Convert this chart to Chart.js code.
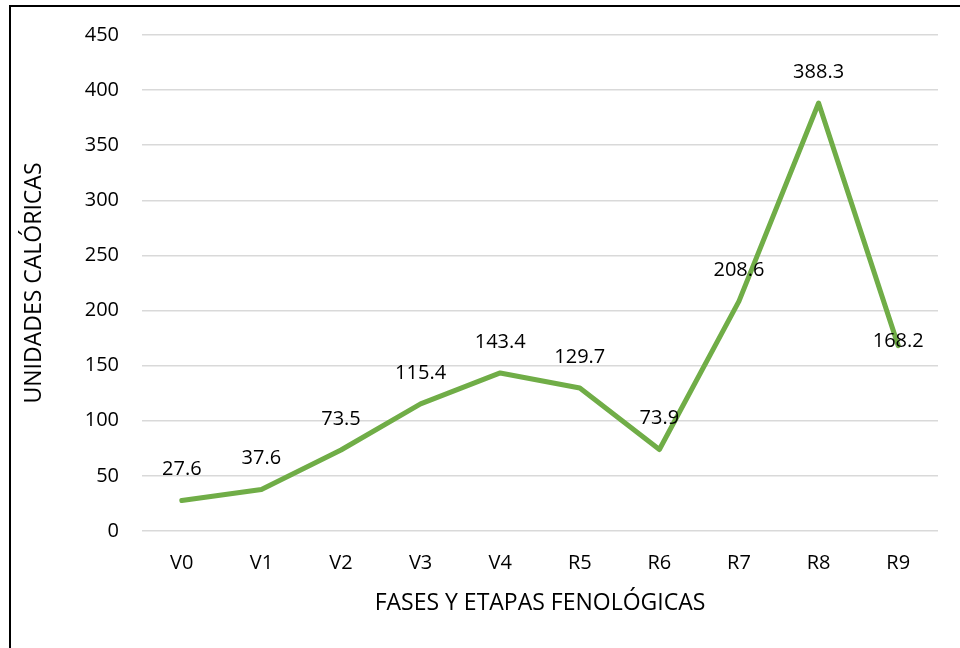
<!DOCTYPE html>
<html>
<head>
<meta charset="utf-8">
<script src="https://cdn.jsdelivr.net/npm/chart.js@4.4.0/dist/chart.umd.min.js"></script>
<style>
    html, body { margin: 0; padding: 0; background: #fff; }
    .marco { position: relative; width: 960px; height: 648px; overflow: hidden; }
    .borde { position: absolute; left: 9px; top: 5px; width: 1000px; height: 700px;
             border-left: 2px solid #000; border-top: 2px solid #000; box-sizing: border-box; }
    canvas { position: absolute; left: 0; top: 0; }
</style>
</head>
<body>
<div class="marco">
    <div class="borde"></div>
    <canvas id="graficoCalorias" width="960" height="648"></canvas>
</div>
<script>
// datos del gráfico
const etapas = ['V0', 'V1', 'V2', 'V3', 'V4', 'R5', 'R6', 'R7', 'R8', 'R9'];
const unidadesCaloricas = [27.6, 37.6, 73.5, 115.4, 143.4, 129.7, 73.9, 208.6, 388.3, 168.2];
const etiquetas = ['27.6', '37.6', '73.5', '115.4', '143.4', '129.7', '73.9', '208.6', '388.3', '168.2'];
const ticksY = [0, 50, 100, 150, 200, 250, 300, 350, 400, 450];

const fuente = "'Open Sans', 'Noto Sans', sans-serif";

// etiquetas de datos encima de cada punto (sin plugin externo)
const etiquetasPlugin = {
    id: 'etiquetasDatos',
    afterDatasetsDraw(chart) {
        const { ctx } = chart;
        const meta = chart.getDatasetMeta(0);
        ctx.save();
        ctx.font = '20px ' + fuente;
        ctx.fillStyle = '#000';
        ctx.textAlign = 'center';
        ctx.textBaseline = 'middle';
        meta.data.forEach((punto, i) => {
            // el último rótulo queda sobre el punto, como en el original
            const desplazamiento = i === meta.data.length - 1 ? -4 : -31;
            ctx.fillText(etiquetas[i], punto.x, punto.y + desplazamiento);
        });
        ctx.restore();
    }
};

new Chart(document.getElementById('graficoCalorias'), {
    type: 'line',
    data: {
        labels: etapas,
        datasets: [{
            label: 'Unidades calóricas',
            data: unidadesCaloricas,
            borderColor: '#70AD47',
            backgroundColor: '#70AD47',
            borderWidth: 5,
            borderCapStyle: 'round',
            borderJoinStyle: 'round',
            pointRadius: 0,
            tension: 0,
            fill: false
        }]
    },
    options: {
        responsive: false,
        animation: false,
        layout: { padding: { top: 35, right: 22, bottom: 0, left: 0 } },
        plugins: {
            legend: { display: false },
            tooltip: { enabled: false }
        },
        scales: {
            x: {
                offset: true,
                grid: { display: false },
                border: { display: false },
                ticks: { color: '#000', font: { family: fuente, size: 20 }, padding: 12 },
                title: {
                    display: true,
                    text: 'FASES Y ETAPAS FENOLÓGICAS',
                    color: '#000',
                    font: { family: fuente, size: 23 },
                    padding: { top: 0, bottom: 31 }
                },
                afterFit: (escala) => { escala.height = 117; }
            },
            y: {
                min: 0,
                max: 450,
                afterBuildTicks: (escala) => { escala.ticks = ticksY.map(v => ({ value: v })); },
                grid: { color: '#d9d9d9', lineWidth: 1.5, drawTicks: false },
                border: { display: false },
                ticks: { color: '#000', font: { family: fuente, size: 20 }, padding: 23 },
                title: {
                    display: true,
                    text: 'UNIDADES CALÓRICAS',
                    color: '#000',
                    font: { family: fuente, size: 23 },
                    padding: { top: 21, bottom: 0 }
                },
                afterFit: (escala) => { escala.width = 142; }
            }
        }
    },
    plugins: [etiquetasPlugin]
});
</script>
</body>
</html>
